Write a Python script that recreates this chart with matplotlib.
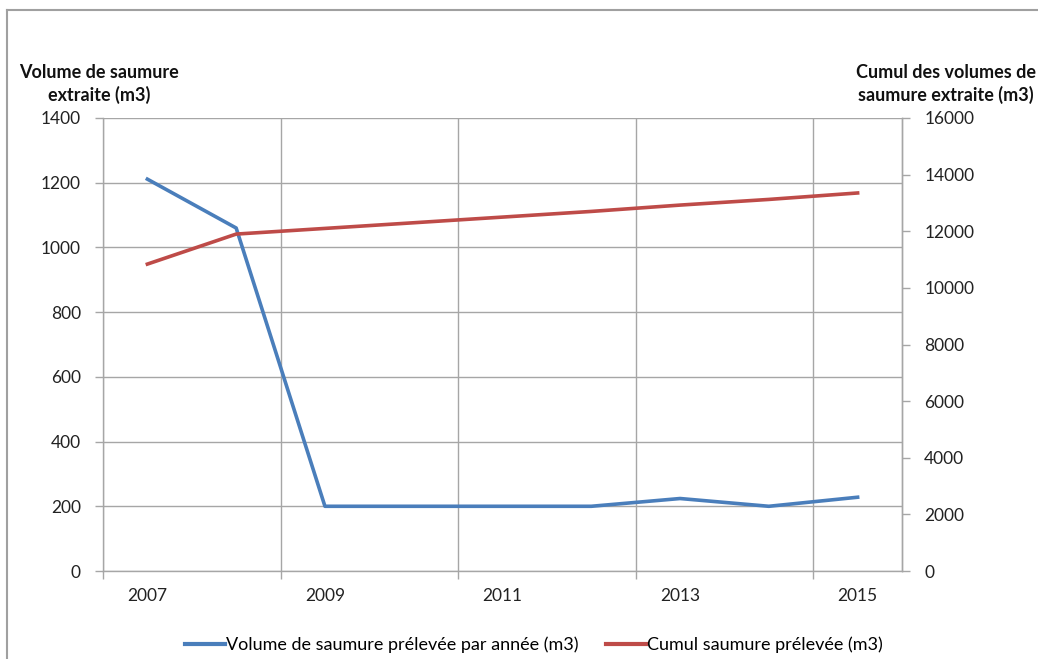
import matplotlib
matplotlib.use("Agg")
import matplotlib.pyplot as plt
from matplotlib.lines import Line2D

plt.rcParams['font.family'] = ['Lato', 'DejaVu Sans']

years = [2007, 2008, 2009, 2010, 2011, 2012, 2013, 2014, 2015]
volume_annuel = [1211, 1060, 200, 200, 200, 200, 224, 200, 228]
cumul = [10840, 11900, 12100, 12300, 12500, 12700, 12924, 13124, 13352]
xtick_labels = ["2007", "2009", "2011", "2013", "2015"]
left_ticks = [0, 200, 400, 600, 800, 1000, 1200, 1400]
right_ticks = [0, 2000, 4000, 6000, 8000, 10000, 12000, 14000, 16000]

blue = "#4a7ebb"
red = "#be4b48"
grid_c = "#a6a6a6"

W, H = 1038, 659
fig = plt.figure(figsize=(W / 100, H / 100), dpi=100)

# outer chart border
fig.add_artist(Line2D([7 / W, 7 / W], [0, 1 - 10 / H], transform=fig.transFigure, color="#a0a0a0", lw=1.5))
fig.add_artist(Line2D([7 / W, 1], [1 - 10 / H, 1 - 10 / H], transform=fig.transFigure, color="#a0a0a0", lw=1.5))

x0, x1, y0, y1 = 103, 902, 118, 571
ax = fig.add_axes([x0 / W, 1 - y1 / H, (x1 - x0) / W, (y1 - y0) / H])
ax2 = ax.twinx()

ax.plot(years, volume_annuel, color=blue, lw=2.6, solid_joinstyle="round", zorder=3)
ax2.plot(years, cumul, color=red, lw=2.6, solid_joinstyle="round", zorder=3)

ax.set_xlim(2006.5, 2015.5)
ax.set_ylim(0, 1400)
ax2.set_ylim(0, 16000)

fs = 12.5
ax.set_xticks([2007, 2009, 2011, 2013, 2015])
ax.set_xticklabels(xtick_labels)
ax.set_xticks([2006.5, 2008.5, 2010.5, 2012.5, 2014.5], minor=True)
ax.tick_params(axis="x", which="major", length=0, pad=12, labelsize=fs, colors="#222222")
ax.tick_params(axis="x", which="minor", length=6, width=1, color=grid_c)
ax.grid(True, axis="x", which="minor", color=grid_c, lw=1)
ax.set_yticks(left_ticks)
ax.tick_params(axis="y", length=6, width=1, color=grid_c, labelsize=fs, pad=10, labelcolor="#222222")
ax.grid(True, axis="y", which="major", color=grid_c, lw=1)
ax.set_axisbelow(True)

ax2.set_yticks(right_ticks)
ax2.tick_params(axis="y", length=6, width=1, color=grid_c, labelsize=fs, pad=10, labelcolor="#222222")

for a in (ax, ax2):
    for s in ("left", "bottom", "right"):
        a.spines[s].set_color(grid_c)
        a.spines[s].set_linewidth(1)
    a.spines["top"].set_visible(False)
ax2.spines["left"].set_visible(False)
ax2.spines["bottom"].set_visible(False)

fig.text(99 / W, 1 - 84 / H, "Volume de saumure\nextraite (m3)", ha="center", va="center",
         fontsize=13, fontweight="bold", linespacing=1.35, color="#111111")
fig.text(946 / W, 1 - 84 / H, "Cumul des volumes de\nsaumure extraite (m3)", ha="center", va="center",
         fontsize=13, fontweight="bold", linespacing=1.35, color="#111111")

handles = [Line2D([], [], color=blue, lw=3), Line2D([], [], color=red, lw=3)]
labels = ["Volume de saumure prélevée par année (m3)", "Cumul saumure prélevée (m3)"]
fig.legend(handles, labels, loc="center", bbox_to_anchor=(534 / W, 1 - 645 / H), ncol=2,
           frameon=False, fontsize=13, handlelength=2.2, handletextpad=0.1, columnspacing=1.5)

fig.savefig("out.png", dpi=100)
